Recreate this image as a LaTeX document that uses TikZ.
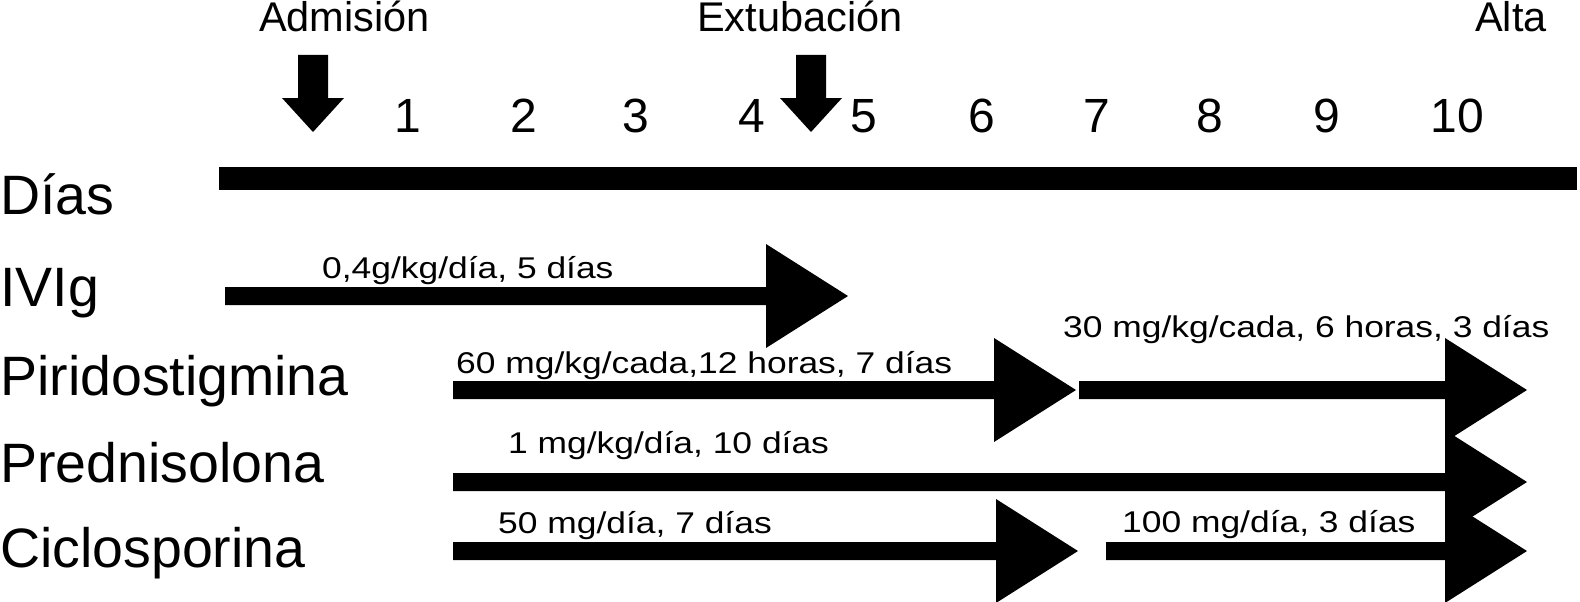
\documentclass[tikz,border=0pt]{standalone}
\usepackage{fontspec}
\setmainfont{Liberation Sans}
\newfontfamily\dosefont[FakeStretch=1.18]{Liberation Sans}
\usetikzlibrary{positioning,calc}
% thick bar with a large triangular head: start x, tip x, y
\newcommand{\BarArrow}[3]{%
  \fill (#1,#3-9) -- (#2-82,#3-9) -- (#2-82,#3-52) -- (#2,#3)
    -- (#2-82,#3+52) -- (#2-82,#3+9) -- (#1,#3+9) -- cycle;%
}
% event marker pointing down at the day axis
\newcommand{\DownArrow}[1]{%
  \fill (#1-15,55) -- (#1+15,55) -- (#1+15,98) -- (#1+31,98) -- (#1,132)
    -- (#1-31,98) -- (#1-15,98) -- cycle;%
}

\begin{document}
\begin{tikzpicture}[x=1pt,y=-1pt,
  evento/.style={anchor=base west,inner sep=0pt,font=\fontsize{41.5}{48}\selectfont},
  dia/.style={anchor=base,inner sep=0pt,font=\fontsize{48}{56}\selectfont},
  farmaco/.style={anchor=base west,inner sep=0pt,font=\fontsize{55.5}{64}\selectfont},
  dosis/.style={anchor=base west,inner sep=0pt,font=\dosefont\fontsize{30}{34}\selectfont}]
\useasboundingbox (0,0) rectangle (1580,602);
% events
\node[evento] (adm) at (259,32) {Admisión};
\node[evento] (ext) at (697,32) {Extubación};
\node[evento,anchor=base east] (alta) at (1547,32) {Alta};
\DownArrow{313}
\DownArrow{811}
% day numbers
\foreach \x/\d in {408/1,524/2,636/3,752/4,864/5,982/6,1097/7,1210/8,1327/9,1457/10} {
  \node[dia] (d\d) at (\x,132) {\d};
}
\fill (219,167) rectangle (1577,190);
% drug rows
\node[farmaco] (dias) at (0,214) {Días};
\node[farmaco] (ivig) at (0,306) {IVIg};
\node[farmaco] (pir) at (0,395) {Piridostigmina};
\node[farmaco] (pred) at (0,482) {Prednisolona};
\node[farmaco] (cic) at (0,567) {Ciclosporina};
\BarArrow{225}{848}{296}
\BarArrow{453}{1076}{390}
\BarArrow{1079}{1527}{390}
\BarArrow{453}{1527}{482}
\BarArrow{453}{1078}{551}
\BarArrow{1106}{1527}{551}
\node[dosis] (ivigdosis) at (322,278) {0,4g/kg/día, 5 días};
\node[dosis] (pirdosis1) at (456,373) {60 mg/kg/cada,12 horas, 7 días};
\node[dosis] (pirdosis2) at (1063,337) {30 mg/kg/cada, 6 horas, 3 días};
\node[dosis] (preddosis) at (508,453) {1 mg/kg/día, 10 días};
\node[dosis] (cicdosis1) at (498,533) {50 mg/día, 7 días};
\node[dosis] (cicdosis2) at (1122,532) {100 mg/día, 3 días};
\end{tikzpicture}
\end{document}
